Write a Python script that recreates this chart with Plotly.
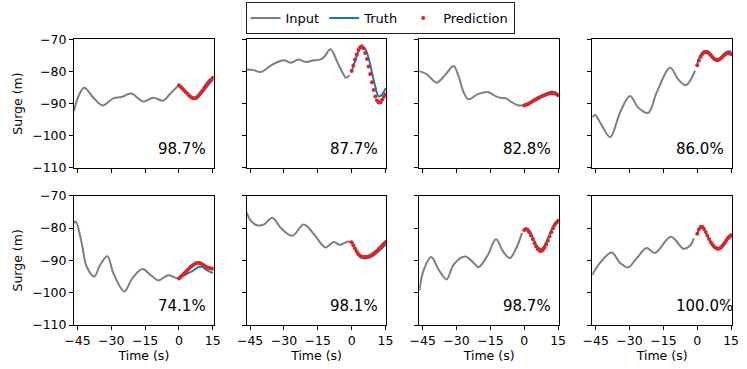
import plotly.graph_objects as go

# ---------------- data ----------------
scores = ["98.7%", "87.7%", "82.8%", "86.0%", "74.1%", "98.1%", "98.7%", "100.0%"]

# Input (history) series: times (s) and surge (m)
in_t1 = [-46.5, -44.5, -42.0, -37.9, -33.8, -29.1, -25.4, -21.2, -15.8, -11.4, -6.9, -3.7, 0]
in_v1 = [-92.3, -87.7, -85.1, -88.2, -90.6, -88.4, -88.0, -86.9, -89.4, -88.2, -89.1, -86.8, -84.3]
in_t2 = [-46.5, -43.5, -40.1, -35.7, -30.1, -26.8, -23.6, -20.2, -17.3, -14.3, -12.1, -9.4, -6.2, -4.0, -2.5, -1.0]
in_v2 = [-79.4, -79.6, -80.2, -78.1, -76.5, -77.3, -76.3, -77.1, -76.6, -76.4, -75.4, -73.1, -77.3, -80.4, -82.0, -81.2]
in_t3 = [-46.5, -43.1, -38.9, -34.9, -31.3, -29.1, -26.8, -24.7, -20.5, -16.2, -12.5, -10.0, -8.0, -5.5, -2.5, 0]
in_v3 = [-79.9, -80.9, -83.5, -81.0, -78.3, -81.5, -86.6, -88.7, -87.1, -86.4, -87.8, -88.3, -88.4, -89.6, -90.6, -90.5]
in_t4 = [-46.5, -45.3, -42.3, -38.6, -34.2, -29.8, -26.1, -21.7, -18.0, -12.0, -8.4, -5.0, -1.0]
in_v4 = [-94.3, -93.6, -96.8, -100.5, -92.8, -87.7, -91.3, -92.9, -86.6, -78.9, -82.5, -84.3, -79.8]
in_t5 = [-46.5, -45.7, -43.1, -40.9, -37.5, -35.0, -31.7, -29.1, -24.2, -20.9, -16.2, -12.8, -9.1, -4.7, -1.0, 0]
in_v5 = [-78.5, -78.0, -84.6, -91.9, -95.0, -91.5, -88.7, -93.9, -99.6, -95.8, -92.7, -94.4, -96.2, -94.6, -95.5, -95.6]
in_t6 = [-46.5, -44.5, -41.6, -38.6, -35.2, -31.3, -26.3, -21.2, -16.5, -11.6, -7.9, -5.3, -1.7, 0]
in_v6 = [-75.2, -77.9, -79.2, -78.8, -76.8, -80.0, -82.4, -78.9, -82.1, -86.0, -84.3, -85.2, -84.2, -84.4]
in_t7 = [-46.5, -44.5, -41.2, -37.9, -34.4, -31.3, -26.2, -22.4, -20.3, -16.5, -12.5, -9.4, -6.4, -3.2, -1.0]
in_v7 = [-99.4, -92.9, -89.0, -92.9, -95.9, -91.3, -88.8, -90.8, -92.1, -88.8, -83.5, -87.2, -89.3, -85.7, -81.5]
in_t8 = [-46.5, -43.1, -37.9, -34.2, -30.7, -26.8, -22.4, -18.7, -11.7, -6.1, -3.2, -1.5]
in_v8 = [-94.5, -90.8, -87.6, -90.8, -92.2, -89.3, -86.2, -87.7, -82.7, -86.4, -85.5, -83.2]

# Forecast horizon
truth_t = [0, 1.5, 3, 4.5, 6, 7.5, 9, 10.5, 12, 13.5, 15]
pred_t = [0, 0.75, 1.5, 2.25, 3, 3.75, 4.5, 5.25, 6, 6.75, 7.5, 8.25, 9, 9.75,
          10.5, 11.25, 12, 12.75, 13.5, 14.25, 15]

truth1 = [-84.3, -85.3, -86.4, -87.5, -88.3, -88.4, -87.7, -86.5, -85.1, -83.8, -82.6]
truth2 = [-80.0, -76.8, -73.8, -72.3, -73.0, -75.8, -80.3, -84.8, -87.8, -87.2, -85.3]
truth3 = [-90.6, -90.1, -89.5, -88.8, -88.2, -87.7, -87.2, -86.8, -86.3, -86.5, -87.2]
truth4 = [-77.6, -74.9, -73.7, -73.7, -74.6, -75.8, -76.3, -75.6, -74.5, -73.8, -73.8]
truth5 = [-95.6, -94.9, -94.4, -93.8, -93.3, -92.6, -92.0, -92.1, -92.9, -93.5, -93.9]
truth6 = [-84.4, -86.5, -88.3, -89.2, -89.4, -89.2, -88.8, -88.1, -87.2, -86.2, -85.2]
truth7 = [-80.6, -80.3, -81.8, -84.1, -85.9, -86.5, -85.4, -83.2, -80.7, -78.6, -77.3]
truth8 = [-82.0, -79.8, -80.4, -82.4, -84.5, -85.9, -86.6, -86.3, -85.1, -83.6, -82.6]

pred1 = [-84.3, -84.8, -85.3, -85.9, -86.4, -87.0, -87.5, -88.0, -88.3, -88.4, -88.3, -87.9, -87.3,
         -86.6, -85.9, -85.1, -84.3, -83.6, -83.0, -82.5, -82.0]
pred2 = [-79.9, -78.2, -76.3, -74.7, -73.3, -72.5, -72.2, -72.8, -74.3, -76.1, -78.5, -80.8, -83.4,
         -85.8, -87.8, -89.1, -89.7, -89.6, -88.8, -87.9, -87.2]
pred3 = [-90.6, -90.4, -90.2, -89.9, -89.6, -89.3, -89.0, -88.7, -88.4, -88.1, -87.8, -87.6, -87.4,
         -87.2, -87.0, -86.8, -86.7, -86.7, -86.8, -87.1, -87.4]
pred4 = [-78.1, -76.6, -75.4, -74.6, -74.1, -73.9, -74.0, -74.4, -75.0, -75.6, -76.1, -76.4, -76.5,
         -76.3, -75.9, -75.4, -74.9, -74.5, -74.3, -74.4, -74.6]
pred5 = [-95.6, -95.1, -94.6, -94.1, -93.6, -93.0, -92.5, -92.0, -91.6, -91.2, -90.9, -90.8, -90.8,
         -91.0, -91.3, -91.7, -92.0, -92.3, -92.4, -92.5, -92.6]
pred6 = [-84.4, -85.3, -86.3, -87.3, -88.1, -88.6, -88.9, -89.0, -89.0, -88.9, -88.8, -88.6, -88.3,
         -87.9, -87.5, -87.0, -86.5, -86.0, -85.4, -84.9, -84.4]
pred7 = [-80.6, -80.3, -80.6, -81.3, -82.3, -83.4, -84.6, -85.7, -86.5, -87.0, -87.1, -86.8, -86.1,
         -85.1, -83.9, -82.6, -81.3, -80.1, -79.1, -78.4, -77.9]
pred8 = [-81.8, -80.4, -79.7, -79.7, -80.3, -81.2, -82.3, -83.4, -84.4, -85.2, -85.8, -86.2, -86.4,
         -86.3, -86.0, -85.4, -84.7, -83.9, -83.2, -82.6, -82.2]

x_ticks = [-45, -30, -15, 0, 15]
x_tick_text = ["\u221245", "\u221230", "\u221215", "0", "15"]
y_ticks = [-110, -100, -90, -80, -70]
y_tick_text = ["\u2212110", "\u2212100", "\u221290", "\u221280", "\u221270"]

inputs = [(in_t1, in_v1), (in_t2, in_v2), (in_t3, in_v3), (in_t4, in_v4),
          (in_t5, in_v5), (in_t6, in_v6), (in_t7, in_v7), (in_t8, in_v8)]
truths = [truth1, truth2, truth3, truth4, truth5, truth6, truth7, truth8]
preds = [pred1, pred2, pred3, pred4, pred5, pred6, pred7, pred8]

# ---------------- layout ----------------
W, H = 747, 369
col_px = [(74.0, 213.7), (246.7, 386.4), (419.3, 559.0), (592.3, 732.0)]
row_px = [(39.3, 167.7), (195.7, 325.0)]  # top, bottom in pixels from top

FONT = "DejaVu Sans"
GRAY = "#7f7f7f"
BLUE = "#1f77b4"
RED = "#d62728"

fig = go.Figure()
layout = dict(
    width=W, height=H,
    margin=dict(l=0, r=0, t=0, b=0),
    paper_bgcolor="white", plot_bgcolor="white",
    font=dict(family=FONT, size=12.5, color="black"),
    showlegend=True,
    legend=dict(orientation="h", x=380 / W, xanchor="center", y=1 - 2 / H, yanchor="top",
                bordercolor="#222", borderwidth=1, bgcolor="white",
                font=dict(family=FONT, size=13), itemwidth=30, tracegroupgap=0),
)
annotations = []

for i in range(8):
    r, c = divmod(i, 4)
    k = i + 1
    xa = "x" if k == 1 else f"x{k}"
    ya = "y" if k == 1 else f"y{k}"
    x0, x1 = col_px[c]
    ytop, ybot = row_px[r]
    xaxis = dict(
        domain=[x0 / W, x1 / W], range=[-46.5, 15.4], anchor=ya,
        showline=True, mirror=True, linecolor="black", linewidth=1,
        ticks="outside", ticklen=4, tickwidth=1, tickcolor="black",
        tickvals=x_ticks, ticktext=x_tick_text, showticklabels=(r == 1),
        showgrid=False, zeroline=False, automargin=False,
        tickfont=dict(family=FONT, size=12.5),
    )
    if r == 1:
        xaxis["title"] = dict(text="Time (s)", font=dict(family=FONT, size=12.5), standoff=3)
    yaxis = dict(
        domain=[1 - ybot / H, 1 - ytop / H], range=[-110, -70], anchor=xa,
        showline=True, mirror=True, linecolor="black", linewidth=1,
        ticks="outside", ticklen=4, tickwidth=1, tickcolor="black",
        tickvals=y_ticks, ticktext=y_tick_text, showticklabels=(c == 0),
        showgrid=False, zeroline=False, automargin=False,
        tickfont=dict(family=FONT, size=12.5),
    )
    if c == 0:
        yaxis["title"] = dict(text="Surge (m)", font=dict(family=FONT, size=12.5), standoff=6)
    layout["xaxis" if k == 1 else f"xaxis{k}"] = xaxis
    layout["yaxis" if k == 1 else f"yaxis{k}"] = yaxis

    t_in, v_in = inputs[i]
    fig.add_trace(go.Scatter(x=t_in, y=v_in, mode="lines", name="Input",
                             line=dict(color=GRAY, width=2, shape="spline", smoothing=1.0),
                             xaxis=xa, yaxis=ya, showlegend=(i == 0), legendgroup="in"))
    fig.add_trace(go.Scatter(x=truth_t, y=truths[i], mode="lines", name="Truth",
                             line=dict(color=BLUE, width=2, shape="spline", smoothing=1.0),
                             xaxis=xa, yaxis=ya, showlegend=(i == 0), legendgroup="tr"))
    fig.add_trace(go.Scatter(x=pred_t, y=preds[i], mode="markers", name="Prediction",
                             marker=dict(color=RED, size=4, line=dict(width=0)),
                             xaxis=xa, yaxis=ya, showlegend=(i == 0), legendgroup="pr"))
    annotations.append(dict(x=-10.3, y=-104.2, xref=xa, yref=ya, text=scores[i],
                            showarrow=False, xanchor="left", yanchor="middle",
                            font=dict(family=FONT, size=15, color="black")))

layout["annotations"] = annotations
fig.update_layout(**layout)
fig.write_html("out.html",
               config={"displayModeBar": False, "staticPlot": True},
               post_script="document.body.style.margin='0';document.body.style.overflow='hidden';")
